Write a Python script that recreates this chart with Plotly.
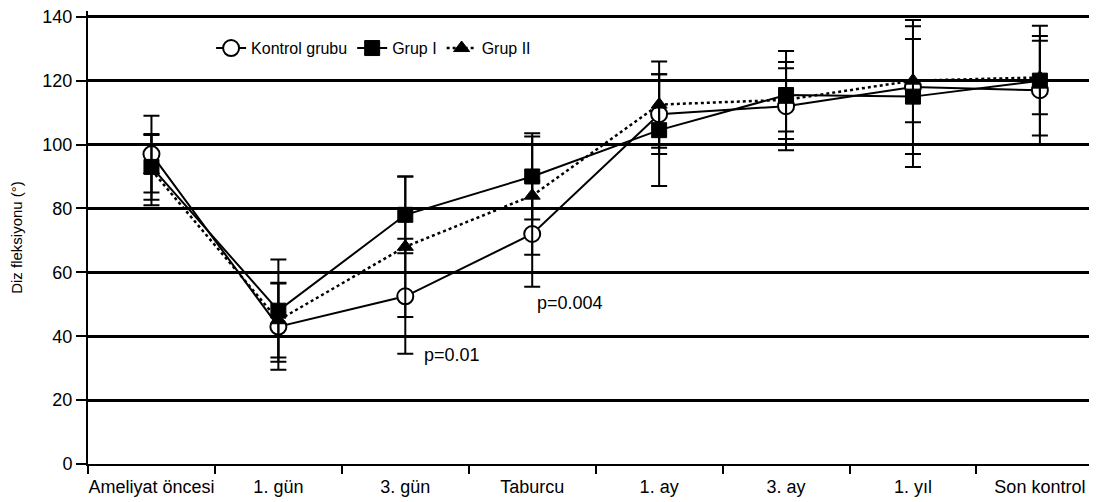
import plotly.graph_objects as go

categories = ["Ameliyat öncesi", "1. gün", "3. gün", "Taburcu", "1. ay", "3. ay", "1. yıl", "Son kontrol"]

kontrol = [97, 43, 52.5, 72, 109.5, 112, 118, 117]
kontrol_sd = [12, 13.5, 18, 16.5, 12.5, 13.8, 21, 17]

grup1 = [93, 48, 78, 90, 104.5, 115.5, 115, 120]
grup1_sd = [10.3, 16, 12, 13.5, 17.5, 13.8, 22, 17.2]

grup2 = [92, 45, 68, 84, 112.5, 114, 120, 121]
grup2_sd = [11, 11.7, 22, 18.5, 13.5, 9.9, 13, 11.5]

series_names = ["Kontrol grubu", "Grup I", "Grup II"]

p_labels = ["p=0.01", "p=0.004"]
p_x = [2.13, 3.02]
p_y = [34, 50.5]

FONT = "Liberation Sans, Arial, Helvetica, sans-serif"

fig = go.Figure()

def err(sd):
    return dict(type="data", array=sd, visible=True, color="black", thickness=2, width=8)

fig.add_trace(go.Scatter(
    x=categories, y=kontrol, name=series_names[0], mode="lines+markers",
    line=dict(color="black", width=2),
    marker=dict(symbol="circle", size=16, color="white", line=dict(color="black", width=2)),
    error_y=err(kontrol_sd),
))
fig.add_trace(go.Scatter(
    x=categories, y=grup1, name=series_names[1], mode="lines+markers",
    line=dict(color="black", width=2),
    marker=dict(symbol="square", size=15, color="black", line=dict(color="black", width=1)),
    error_y=err(grup1_sd),
))
fig.add_trace(go.Scatter(
    x=categories, y=grup2, name=series_names[2], mode="lines+markers",
    line=dict(color="black", width=2.5, dash="dot"),
    marker=dict(symbol="triangle-up", size=14, color="black", line=dict(color="black", width=1)),
    error_y=err(grup2_sd),
))

for txt, xx, yy in zip(p_labels, p_x, p_y):
    fig.add_annotation(x=xx, y=yy, text=txt, showarrow=False, xanchor="left", yanchor="middle",
                       font=dict(size=18, color="black", family=FONT))

fig.update_layout(
    width=1097, height=502,
    margin=dict(l=80, r=8, t=3, b=46, autoexpand=False),
    paper_bgcolor="white", plot_bgcolor="white",
    font=dict(family=FONT, color="black"),
    showlegend=True,
    legend=dict(orientation="h", x=0.122, y=0.918, xanchor="left", yanchor="middle",
                bgcolor="rgba(0,0,0,0)", font=dict(size=16, color="black", family=FONT),
                itemwidth=30, tracegroupgap=0),
)

fig.update_xaxes(
    type="category", categoryorder="array", categoryarray=categories,
    range=[-0.5, 7.45], tickson="boundaries", tickangle=0, automargin=False,
    showline=True, linecolor="black", linewidth=2,
    ticks="outside", ticklen=8, tickwidth=2, tickcolor="black",
    ticklabelstandoff=5, ticklabeloverflow="allow",
    showgrid=False, zeroline=False,
    tickfont=dict(size=18, color="black", family=FONT),
)
fig.update_yaxes(
    range=[0, 141.8], tickmode="array", tickvals=[0, 20, 40, 60, 80, 100, 120, 140],
    automargin=False, ticklabeloverflow="allow",
    showline=True, linecolor="black", linewidth=2,
    ticks="outside", ticklen=10, tickwidth=2, tickcolor="black",
    showgrid=True, gridcolor="black", gridwidth=2.5, zeroline=False,
    tickfont=dict(size=18, color="black", family=FONT),
    title=dict(text="Diz fleksiyonu (°)", font=dict(size=15, color="black", family=FONT), standoff=16),
)

fig.write_html("out.html")
